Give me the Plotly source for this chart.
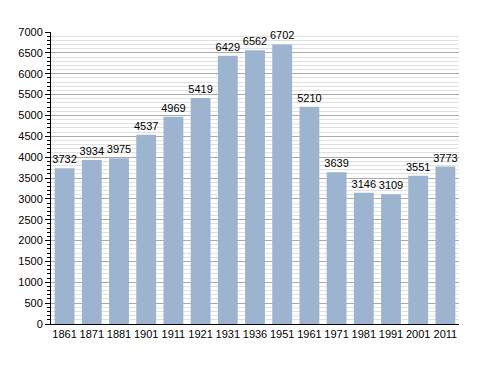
import plotly.graph_objects as go

years = ["1861", "1871", "1881", "1901", "1911", "1921", "1931", "1936", "1951",
         "1961", "1971", "1981", "1991", "2001", "2011"]
population = [3732, 3934, 3975, 4537, 4969, 5419, 6429, 6562, 6702,
              5210, 3639, 3146, 3109, 3551, 3773]

fig = go.Figure()
fig.add_trace(go.Bar(
    x=years, y=population,
    marker=dict(color="#9cb4d0", line=dict(width=0)),
    text=[str(v) for v in population],
    textposition="outside",
    constraintext="none",
    textfont=dict(family="Liberation Sans, Arial, sans-serif", size=11, color="black"),
    cliponaxis=False,
))

fig.update_layout(
    width=480, height=365,
    margin=dict(l=43, r=29, t=24, b=49, autoexpand=False),
    paper_bgcolor="white", plot_bgcolor="white",
    bargap=0.27,
    showlegend=False,
    font=dict(family="Liberation Sans, Arial, sans-serif", size=11, color="black"),
    xaxis=dict(
        type="category", automargin=False,
        showline=True, linecolor="black", linewidth=1,
        ticks="", showgrid=False,
        tickfont=dict(size=11, color="black"),
    ),
    yaxis=dict(
        range=[0, 7000], dtick=500, tick0=0, automargin=False,
        showline=True, linecolor="black", linewidth=1,
        ticks="outside", ticklen=5, tickcolor="black",
        showgrid=True, gridcolor="#aaaaaa", gridwidth=1,
        zeroline=False,
        tickfont=dict(size=11, color="black"),
        minor=dict(dtick=100, ticks="outside", ticklen=3, tickcolor="black",
                   showgrid=True, gridcolor="#e0e0e0", gridwidth=1),
    ),
)

fig.write_html("out.html")
